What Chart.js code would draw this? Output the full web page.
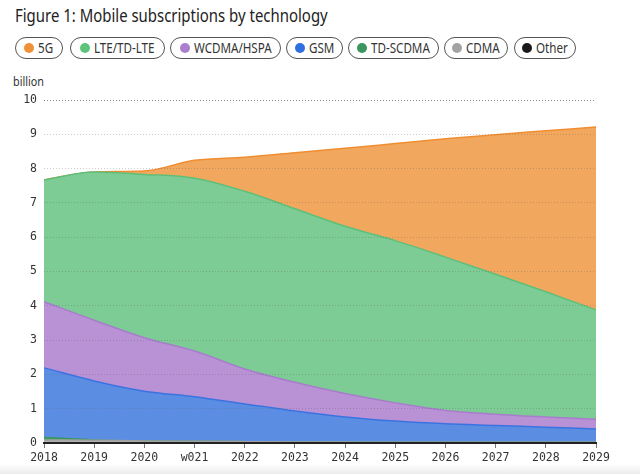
<!DOCTYPE html>
<html>
<head>
<meta charset="utf-8">
<script src="https://cdn.jsdelivr.net/npm/chart.js@4/dist/chart.umd.min.js"></script>
<style>
  html, body { margin: 0; padding: 0; background: #fff; }
  body { width: 640px; height: 474px; position: relative; overflow: hidden; font-family: "Noto Sans", sans-serif; }
  #title { position: absolute; left: 15px; top: 3px; font-size: 18px; color: #222; white-space: nowrap; transform: scaleX(0.83); transform-origin: left top; }
  #legend { position: absolute; left: 15px; top: 37px; }
  .pill { position: absolute; top: 0; box-sizing: border-box; display: flex; align-items: center; justify-content: center; height: 22px; border: 1px solid #555; border-radius: 11px; color: #333; }
  .pill .txt { display: inline-block; font-size: 13.5px; white-space: nowrap; transform: scaleX(0.86); transform-origin: left center; }
  .dot { width: 10px; height: 10px; border-radius: 50%; margin-right: 4px; flex: none; }
  #unit { position: absolute; left: 13px; top: 73px; font-size: 12px; color: #333; transform: scaleX(0.9); transform-origin: left top; }
  #shade { position: absolute; left: 0; bottom: 0; width: 640px; height: 10px; background: linear-gradient(#fff, #ececec); }
  canvas { position: absolute; left: 0; top: 0; }
</style>
</head>
<body>
<div id="title">Figure 1: Mobile subscriptions by technology</div>
<div id="legend"></div>
<div id="unit">billion</div>
<div id="shade"></div>
<canvas id="subsChart" width="640" height="474"></canvas>
<script>
// years on the x axis (label typo kept as in the source)
const years = ['2018', '2019', '2020', 'w021', '2022', '2023', '2024', '2025', '2026', '2027', '2028', '2029'];
const yTicks = [0, 1, 2, 3, 4, 5, 6, 7, 8, 9, 10];

// subscriptions per technology, billion
const other = [0.01, 0.01, 0.01, 0.01, 0.01, 0.01, 0.01, 0.01, 0.01, 0.01, 0.01, 0.01];
const cdma = [0.08, 0.07, 0.05, 0.04, 0.03, 0.02, 0.02, 0.01, 0.01, 0.01, 0.01, 0.01];
const tdscdma = [0.07, 0.01, 0, 0, 0, 0, 0, 0, 0, 0, 0, 0];
const gsm = [2.03, 1.72, 1.45, 1.30, 1.10, 0.90, 0.73, 0.62, 0.54, 0.49, 0.44, 0.39];
const wcdma = [1.93, 1.77, 1.56, 1.33, 1.02, 0.84, 0.68, 0.53, 0.39, 0.33, 0.30, 0.28];
const lte = [3.55, 4.32, 4.76, 5.04, 5.18, 5.06, 4.88, 4.73, 4.47, 4.08, 3.65, 3.19];
const fiveG = [0, 0, 0.10, 0.52, 0.99, 1.63, 2.27, 2.83, 3.45, 4.07, 4.69, 5.33];

// legend order as shown on top
const legendItems = [
    { label: '5G', color: '#f0913a' },
    { label: 'LTE/TD-LTE', color: '#5cc47a' },
    { label: 'WCDMA/HSPA', color: '#a97fd0' },
    { label: 'GSM', color: '#2f6fe0' },
    { label: 'TD-SCDMA', color: '#3a9560' },
    { label: 'CDMA', color: '#a3a3a3' },
    { label: 'Other', color: '#1a1a1a' }
];
// pill boxes (left offset, width)
const pillLeft = [0, 55, 155, 271, 333, 429, 499];
const pillWidth = [48, 95, 111, 57, 91, 64, 62];

const legend = document.getElementById('legend');
legendItems.forEach((item, i) => {
    const pill = document.createElement('div');
    pill.className = 'pill';
    pill.style.left = pillLeft[i] + 'px';
    pill.style.width = pillWidth[i] + 'px';
    pill.innerHTML = '<span class="dot" style="background:' + item.color + '"></span><span class="txt">' + item.label + '</span>';
    legend.appendChild(pill);
    // shrink the layout box to the scaled text so the pill content stays centred
    const txt = pill.querySelector('.txt');
    txt.style.marginRight = (-txt.offsetWidth * 0.14) + 'px';
});

function area(label, data, fill, line) {
    return {
        label: label,
        data: data,
        backgroundColor: fill,
        borderColor: line,
        borderWidth: 1.5,
        pointRadius: 0,
        fill: label === 'Other' ? 'origin' : '-1',
        cubicInterpolationMode: 'monotone'
    };
}

const ctx = document.getElementById('subsChart').getContext('2d');
new Chart(ctx, {
    type: 'line',
    data: {
        labels: years,
        datasets: [
            area('Other', other, '#333333', '#222222'),
            area('CDMA', cdma, '#b0b0b0', '#a0a0a0'),
            area('TD-SCDMA', tdscdma, '#4aa36a', '#3a9560'),
            area('GSM', gsm, '#5b8ee3', '#3a73e0'),
            area('WCDMA/HSPA', wcdma, '#b991d5', '#a77dcb'),
            area('LTE/TD-LTE', lte, '#7dcc96', '#5dbf79'),
            area('5G', fiveG, '#f1a85e', '#f08d30')
        ]
    },
    options: {
        responsive: false,
        animation: false,
        layout: { padding: { top: 100, right: 44, left: 0, bottom: 0 } },
        plugins: { legend: { display: false }, tooltip: { enabled: false } },
        scales: {
            x: {
                offset: false,
                grid: { z: 1, drawOnChartArea: false, drawTicks: true, tickLength: 5, color: '#777' },
                border: { z: 1, display: true, color: '#222', width: 2 },
                ticks: {
                    color: '#333',
                    padding: 3,
                    maxRotation: 0,
                    autoSkip: false,
                    font: { family: 'DejaVu Sans Mono', size: 11.5 }
                },
                afterFit: scale => { scale.height = 31; }
            },
            y: {
                stacked: true,
                min: 0,
                max: 10,
                afterBuildTicks: scale => { scale.ticks = yTicks.map(v => ({ value: v })); },
                grid: {
                    z: 1,
                    drawTicks: false,
                    // gridlines sit over the areas, dotted
                    color: c => c.tick.value === 10 ? '#888' : (c.tick.value === 0 ? 'rgba(0,0,0,0)' : 'rgba(90,90,90,0.3)'),
                    lineWidth: 1
                },
                border: { display: false, dash: [1, 2] },
                ticks: {
                    color: '#333',
                    padding: 7,
                    font: { family: 'DejaVu Sans Mono', size: 11.5 }
                },
                afterFit: scale => { scale.width = 44; }
            }
        }
    }
});
</script>
</body>
</html>
